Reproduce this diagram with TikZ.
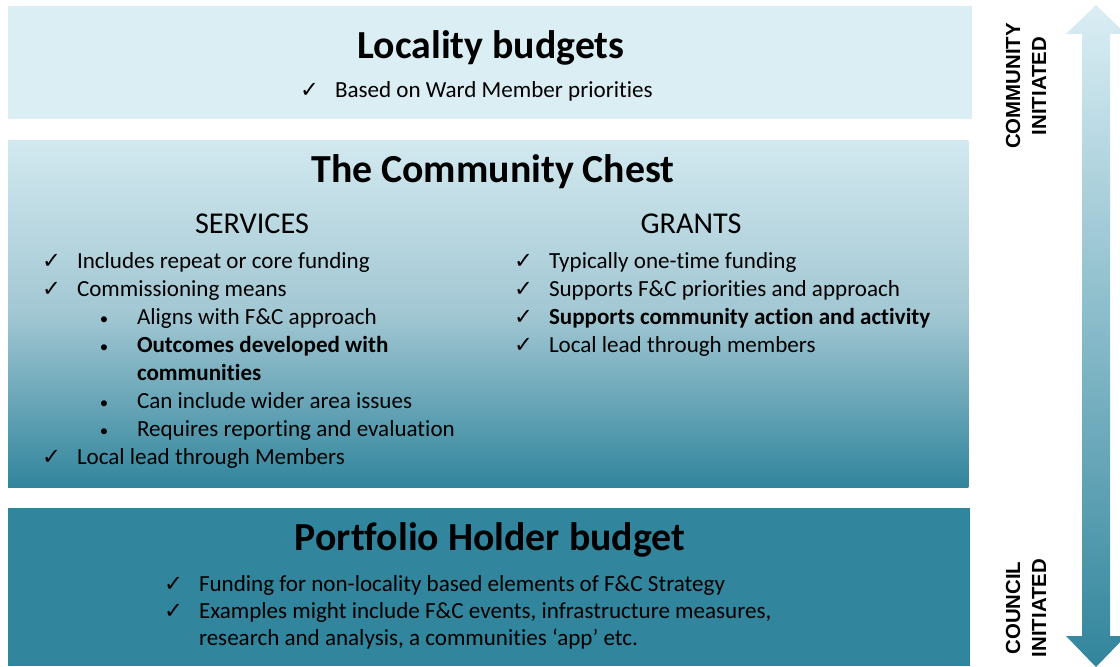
\documentclass[tikz,border=0pt]{standalone}
\usepackage{fontspec}
\setmainfont{Carlito}[Ligatures={NoCommon,TeX}]
\newfontfamily\arialfont{Liberation Sans}
\newfontfamily\symfont{DejaVu Sans}
\usetikzlibrary{positioning}

\definecolor{paleaqua}{HTML}{DBEEF4}
\definecolor{midaqua}{HTML}{A2C7D3}
\definecolor{deepaqua}{HTML}{31859C}
\pgfdeclareverticalshading{chestfade}{100bp}{color(0bp)=(deepaqua); color(25bp)=(deepaqua); color(50bp)=(midaqua); color(75bp)=(paleaqua!95!deepaqua); color(100bp)=(paleaqua!95!deepaqua)}

\tikzset{
  panel/.style={anchor=north west, inner sep=0pt, outer sep=0pt},
  heading/.style={font=\fontsize{28.3}{34}\selectfont\bfseries, anchor=base},
  subheading/.style={font=\fontsize{21.5}{26}\selectfont, anchor=base},
  entry/.style={font=\fontsize{16.4}{20}\selectfont, anchor=base west},
  boldentry/.style={font=\fontsize{16.4}{20}\selectfont\bfseries, anchor=base west},
  checkmk/.style={font=\symfont\fontsize{16}{20}\selectfont},
  bulletmk/.style={font=\fontsize{12}{16}\selectfont},
  sidelabel/.style={font=\arialfont\bfseries\fontsize{14.5}{18.4}\selectfont, rotate=90, align=center}
}

\begin{document}
\begin{tikzpicture}[
    x=0.025cm, y=-0.025cm, % one unit is one pixel of the layout
    every node/.style={inner sep=0pt, outer sep=0pt}
]
    \useasboundingbox (0,0) rectangle (1120,666);
    \clip (0,0) rectangle (1120,666);

    % Define panels
    \node (locality) [panel, fill=paleaqua, minimum width=24.1cm, minimum height=2.825cm] at (8,6) {};
    \node (chest) [panel, shading=chestfade, minimum width=24cm, minimum height=8.675cm] at (8,140) {};
    \node (holder) [panel, fill=deepaqua, minimum width=24.05cm, minimum height=3.95cm] at (8,508) {};

    % Two-way arrow on the right
    \shade[top color=paleaqua, bottom color=deepaqua] (1096,5) -- (1126,34) -- (1110,34) -- (1110,636)
        -- (1126,636) -- (1096,667) -- (1066,636) -- (1082,636) -- (1082,34) -- (1066,34) -- cycle;
    \node (community) [sidelabel] at (1026,86) {COMMUNITY\\INITIATED};
    \node (council) [sidelabel] at (1026,608) {COUNCIL\\INITIATED};

    % Locality budgets
    \node (loctitle) [heading] at (491,58) {Locality budgets};
    \node (loc1) [entry] at (335,97) {Based on Ward Member priorities};
    \node (loc1c) [checkmk, base left=0.4cm of loc1] {✓};

    % The Community Chest
    \node (chesttitle) [heading] at (493,182) {The Community Chest};
    \node (services) [subheading] at (252,233) {SERVICES};
    \node (grants) [subheading] at (691,233) {GRANTS};

    \node (s1) [entry] at (77,268) {Includes repeat or core funding};
    \node (s2) [entry] at (77,296) {Commissioning means};
    \node (s3) [entry] at (137,324) {Aligns with F\&C approach};
    \node (s4) [boldentry] at (137,352) {Outcomes developed with};
    \node (s4b) [boldentry] at (137,380) {communities};
    \node (s5) [entry] at (137,408) {Can include wider area issues};
    \node (s6) [entry] at (137,436) {Requires reporting and evaluation};
    \node (s7) [entry] at (77,464) {Local lead through Members};
    \node (s1c) [checkmk, base left=0.4cm of s1] {✓};
    \node (s2c) [checkmk, base left=0.4cm of s2] {✓};
    \node (s3b) [bulletmk, base left=0.72cm of s3] {•};
    \node (s4c) [bulletmk, base left=0.72cm of s4] {•};
    \node (s5b) [bulletmk, base left=0.72cm of s5] {•};
    \node (s6b) [bulletmk, base left=0.72cm of s6] {•};
    \node (s7c) [checkmk, base left=0.4cm of s7] {✓};

    \node (g1) [entry] at (549,268) {Typically one-time funding};
    \node (g2) [entry] at (549,296) {Supports F\&C priorities and approach};
    \node (g3) [boldentry] at (549,324) {Supports community action and activity};
    \node (g4) [entry] at (549,352) {Local lead through members};
    \node (g1c) [checkmk, base left=0.4cm of g1] {✓};
    \node (g2c) [checkmk, base left=0.4cm of g2] {✓};
    \node (g3c) [checkmk, base left=0.4cm of g3] {✓};
    \node (g4c) [checkmk, base left=0.4cm of g4] {✓};

    % Portfolio Holder budget
    \node (holdertitle) [heading] at (490,550) {Portfolio Holder budget};
    \node (h1) [entry] at (199,591) {Funding for non-locality based elements of F\&C Strategy};
    \node (h2) [entry] at (199,618) {Examples might include F\&C events, infrastructure measures,};
    \node (h2b) [entry] at (199,645) {research and analysis, a communities ‘app’ etc.};
    \node (h1c) [checkmk, base left=0.4cm of h1] {✓};
    \node (h2c) [checkmk, base left=0.4cm of h2] {✓};

\end{tikzpicture}
\end{document}
